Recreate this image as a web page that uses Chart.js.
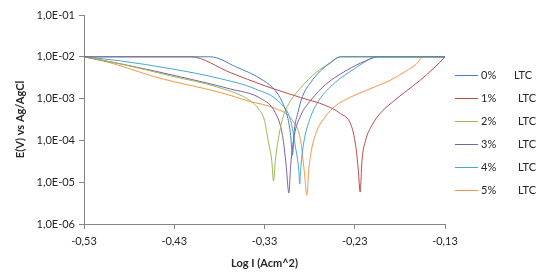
<!DOCTYPE html>
<html><head><meta charset="utf-8">
<script src="https://cdn.jsdelivr.net/npm/chart.js@4/dist/chart.umd.min.js"></script>
<style>
html,body{margin:0;padding:0;background:#fff;}
#wrap{position:relative;width:546px;height:278px;overflow:hidden;}
canvas{position:absolute;left:0;top:0;}
.lg{position:absolute;font:11px Lato, "Open Sans", sans-serif;color:#262626;white-space:nowrap;line-height:14px;}
.ln{position:absolute;height:0;width:23px;border-top:1px solid;}
</style></head><body>
<div id="wrap"><canvas id="c" width="546" height="278"></canvas></div>
<script>
// Tick positions
const xTicks = [-0.53, -0.43, -0.33, -0.23, -0.13];
const yTicks = [1e-6, 1e-5, 1e-4, 1e-3, 1e-2, 1e-1];

// Series names
const seriesNames = ['0%', '1%', '2%', '3%', '4%', '5%'];
const seriesSuffix = 'LTC';

// 0% LTC
const x0 = [-0.53, -0.39, -0.362, -0.331, -0.318, -0.310, -0.304, -0.301, -0.299, -0.297, -0.293, -0.288, -0.279, -0.268, -0.257, -0.246, -0.13];
const y0 = [1e-2, 1e-2, 5.8e-3, 2.7e-3, 1.55e-3, 8.0e-4, 3.3e-4, 1.3e-4, 4.4e-5, 1.7e-4, 4.6e-4, 1.12e-3, 2.4e-3, 4.6e-3, 7.2e-3, 1e-2, 1e-2];
// 1% LTC
const x1 = [-0.53, -0.412, -0.368, -0.329, -0.290, -0.262, -0.246, -0.234, -0.229, -0.226, -0.224, -0.222, -0.218, -0.211, -0.202, -0.189, -0.175, -0.158, -0.143, -0.13];
const y1 = [1e-2, 1e-2, 4.2e-3, 2.0e-3, 1.06e-3, 6.8e-4, 4.4e-4, 2.3e-4, 7.6e-5, 1.9e-5, 5.8e-6, 3.3e-5, 1.0e-4, 2.3e-4, 4.4e-4, 8.0e-4, 1.4e-3, 2.7e-3, 5.2e-3, 1e-2];
// 2% LTC
const x2 = [-0.53, -0.490, -0.434, -0.379, -0.346, -0.337, -0.330, -0.326, -0.322, -0.320, -0.318, -0.314, -0.309, -0.301, -0.290, -0.273, -0.257, -0.246, -0.13];
const y2 = [1e-2, 6.8e-3, 3.5e-3, 1.8e-3, 8.95e-4, 5.8e-4, 3.0e-4, 1.0e-4, 3.3e-5, 1.06e-5, 3.3e-5, 1.3e-4, 3.9e-4, 8.95e-4, 1.8e-3, 4.2e-3, 7.2e-3, 1e-2, 1e-2];
// 3% LTC
const x3 = [-0.53, -0.479, -0.423, -0.368, -0.334, -0.318, -0.310, -0.306, -0.303, -0.301, -0.297, -0.290, -0.279, -0.262, -0.240, -0.218, -0.204, -0.13];
const y3 = [1e-2, 6.1e-3, 3.3e-3, 1.7e-3, 1.0e-3, 4.6e-4, 1.3e-4, 2.5e-5, 5.5e-6, 2.5e-5, 1.3e-4, 3.9e-4, 8.95e-4, 2.2e-3, 4.6e-3, 8.0e-3, 1e-2, 1e-2];
// 4% LTC
const x4 = [-0.53, -0.490, -0.434, -0.379, -0.340, -0.312, -0.301, -0.296, -0.292, -0.291, -0.290, -0.287, -0.281, -0.272, -0.257, -0.234, -0.203, -0.13];
const y4 = [1e-2, 8.0e-3, 5.2e-3, 3.0e-3, 1.7e-3, 7.6e-4, 3.0e-4, 7.6e-5, 1.9e-5, 9.0e-6, 1.9e-5, 7.6e-5, 2.7e-4, 7.6e-4, 1.9e-3, 4.6e-3, 1e-2, 1e-2];
// 5% LTC
const x5 = [-0.53, -0.501, -0.449, -0.379, -0.346, -0.318, -0.299, -0.290, -0.286, -0.283, -0.281, -0.278, -0.272, -0.263, -0.251, -0.234, -0.212, -0.190, -0.173, -0.162, -0.154, -0.13];
const y5 = [1e-2, 7.2e-3, 3.2e-3, 1.4e-3, 8.5e-4, 5.8e-4, 3.0e-4, 1.0e-4, 1.9e-5, 4.9e-6, 1.9e-5, 5.8e-5, 1.7e-4, 3.6e-4, 6.8e-4, 1.1e-3, 1.75e-3, 2.8e-3, 4.6e-3, 6.6e-3, 1e-2, 1e-2];

const colors = ['#4A7EBB', '#BE4B48', '#98B954', '#7D60A0', '#46AAC5', '#F69546'];
const xs = [x0, x1, x2, x3, x4, x5];
const ys = [y0, y1, y2, y3, y4, y5];

const FONT = 'Lato, "Open Sans", sans-serif';

const datasets = seriesNames.map((n, i) => ({
  label: n + '   ' + seriesSuffix,
  data: xs[i].map((x, k) => ({x: x, y: ys[i][k]})),
  borderColor: colors[i],
  backgroundColor: colors[i],
  borderWidth: 1,
  pointRadius: 0,
  showLine: true,
  fill: false,
  cubicInterpolationMode: 'monotone'
}));

function fmtSci(v) {
  const e = Math.round(Math.log10(v));
  const s = e < 0 ? '-' : '+';
  const a = Math.abs(e);
  return '1,0E' + s + (a < 10 ? '0' : '') + a;
}

new Chart(document.getElementById('c'), {
  type: 'scatter',
  data: {datasets: datasets},
  options: {
    responsive: false,
    animation: false,
    devicePixelRatio: 1,
    layout: {padding: {left: 0, top: 15, right: 101, bottom: 0}},
    plugins: {legend: {display: false}, tooltip: {enabled: false}},
    scales: {
      x: {
        type: 'linear',
        min: -0.53, max: -0.13,
        afterBuildTicks: s => { s.ticks = xTicks.map(v => ({value: v})); },
        afterFit: s => { s.height = 54; },
        ticks: {
          color: '#262626', font: {family: FONT, size: 11}, padding: 6,
          maxRotation: 0, autoSkip: false,
          callback: v => v.toFixed(2).replace('.', ',')
        },
        grid: {drawOnChartArea: false, drawTicks: true, tickLength: 5, color: '#868686'},
        border: {display: true, color: '#868686'},
        title: {display: true, text: 'Log I (Acm^2)', color: '#262626',
          font: {family: FONT, size: 11, weight: 'bold'}, padding: {top: 2, bottom: 8}}
      },
      y: {
        type: 'logarithmic',
        min: 1e-6, max: 1e-1,
        afterBuildTicks: s => { s.ticks = yTicks.map(v => ({value: v})); },
        afterFit: s => { s.width = 84; },
        ticks: {
          color: '#262626', font: {family: FONT, size: 11}, padding: 4,
          autoSkip: false,
          callback: v => fmtSci(v)
        },
        grid: {drawOnChartArea: false, drawTicks: true, tickLength: 5, color: '#868686'},
        border: {display: true, color: '#868686'},
        title: {display: true, text: 'E(V) vs Ag/AgCl', color: '#262626',
          font: {family: FONT, size: 11, weight: 'bold'}, padding: {top: 14, bottom: 4}}
      }
    }
  }
});

// Legend
const wrap = document.getElementById('wrap');
seriesNames.forEach((n, i) => {
  const cy = 75 + 23 * i;
  const ln = document.createElement('div');
  ln.className = 'ln';
  ln.style.left = '455px';
  ln.style.top = cy + 'px';
  ln.style.borderTopColor = colors[i];
  wrap.appendChild(ln);
  const t1 = document.createElement('div');
  t1.className = 'lg';
  t1.style.left = '481px';
  t1.style.top = (cy - 7) + 'px';
  t1.textContent = n;
  wrap.appendChild(t1);
  const t2 = document.createElement('div');
  t2.className = 'lg';
  t2.style.left = (i === 0 ? 514 : 518) + 'px';
  t2.style.top = (cy - 7) + 'px';
  t2.textContent = seriesSuffix;
  wrap.appendChild(t2);
});
</script>
</body></html>
